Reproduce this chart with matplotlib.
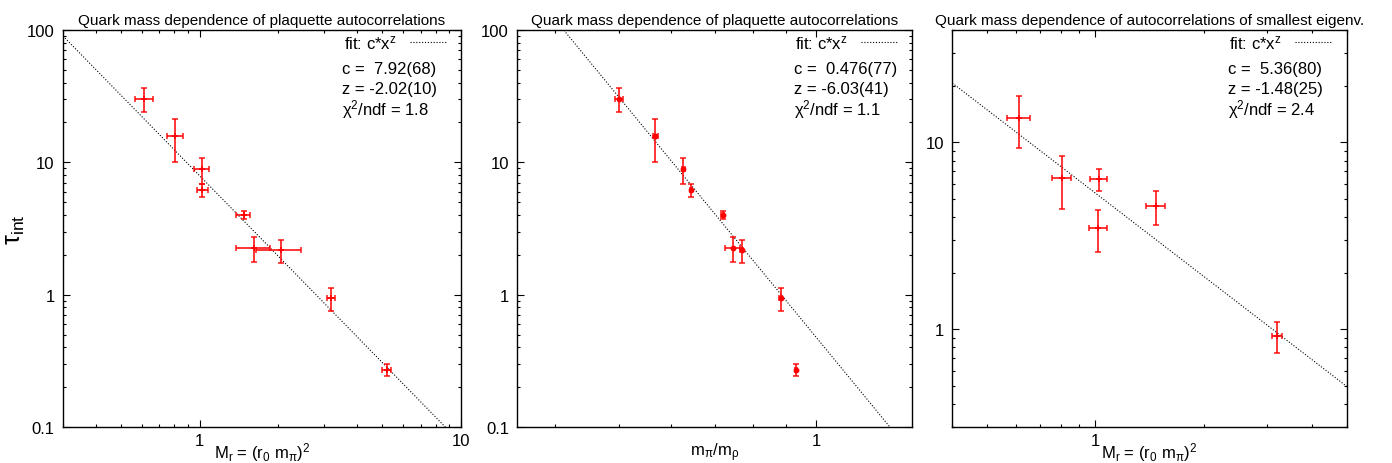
import numpy as np
import matplotlib
matplotlib.use("Agg")
import matplotlib.pyplot as plt
from matplotlib.ticker import FixedLocator, LogLocator, NullFormatter, FixedFormatter

plt.rcParams['font.family'] = ['Liberation Sans', 'DejaVu Sans']
plt.rcParams['mathtext.fontset'] = 'custom'
plt.rcParams['mathtext.rm'] = 'Liberation Sans'
plt.rcParams['mathtext.it'] = 'Liberation Sans:italic'
plt.rcParams['mathtext.default'] = 'regular'

# plaquette autocorrelations vs M_r = (r0 m_pi)^2
mr_plaq = [0.615, 0.808, 1.018, 1.024, 1.472, 1.618, 2.05, 3.18, 5.19]
mr_plaq_err = [0.047, 0.055, 0.066, 0.05, 0.09, 0.24, 0.40, 0.11, 0.19]
tau_plaq = [30.1, 15.7, 8.85, 6.21, 4.0, 2.24, 2.17, 0.937, 0.271]
tau_plaq_err = [6.1, 5.7, 1.95, 0.7, 0.3, 0.47, 0.42, 0.19, 0.026]

# plaquette autocorrelations vs m_pi/m_rho
ratio = [0.501, 0.568, 0.627, 0.644, 0.72, 0.746, 0.770, 0.883, 0.932]
ratio_err = [0.007, 0.005, 0.003, 0.003, 0.003, 0.02, 0.004, 0.004, 0.003]

# smallest eigenvalue autocorrelations vs M_r
mr_eig = [0.614, 0.806, 1.023, 1.017, 1.472, 3.2]
mr_eig_err = [0.045, 0.05, 0.054, 0.06, 0.09, 0.1]
tau_eig = [13.6, 6.42, 6.34, 3.47, 4.56, 0.918]
tau_eig_err = [4.2, 2.03, 0.84, 0.88, 0.93, 0.17]

# fit results c*x^z
fit_c = [7.92, 0.476, 5.36]
fit_z = [-2.02, -6.03, -1.48]
fit_text = [["c =  7.92(68)", "z = -2.02(10)", "χ$^2$/ndf = 1.8"],
            ["c =  0.476(77)", "z = -6.03(41)", "χ$^2$/ndf = 1.1"],
            ["c =  5.36(80)", "z = -1.48(25)", "χ$^2$/ndf = 2.4"]]

titles = ["Quark mass dependence of plaquette autocorrelations",
          "Quark mass dependence of plaquette autocorrelations",
          "Quark mass dependence of autocorrelations of smallest eigenv."]
xlabels = ["M$_r$ = (r$_0$ m$_\\pi$)$^2$", "m$_\\pi$/m$_\\rho$", "M$_r$ = (r$_0$ m$_\\pi$)$^2$"]
xlims = [(0.3, 10), (0.35, 1.4), (0.4, 5)]
ylims = [(0.1, 100), (0.1, 100), (0.3, 40)]
xticks = [[1, 10], [1], [1]]
yticks = [[0.1, 1, 10, 100], [0.1, 1, 10, 100], [1, 10]]

datasets = [(mr_plaq, mr_plaq_err, tau_plaq, tau_plaq_err),
            (ratio, ratio_err, tau_plaq, tau_plaq_err),
            (mr_eig, mr_eig_err, tau_eig, tau_eig_err)]

fig = plt.figure(figsize=(13.92, 4.64), dpi=100)
lefts = [63, 517.3, 952.3]
widths = [398, 394.7, 394.4]

for i in range(3):
    ax = fig.add_axes([lefts[i] / 1392, 1 - 428 / 464, widths[i] / 1392, 397 / 464])
    ax.set_xscale('log')
    ax.set_yscale('log')
    ax.set_xlim(*xlims[i])
    ax.set_ylim(*ylims[i])

    x, xe, y, ye = datasets[i]
    ax.errorbar(x, y, xerr=xe, yerr=ye, fmt='+' if i != 1 else 'o', ms=3 if i == 1 else 4,
                color='red', ecolor=(1, 0, 0, 0.85), elinewidth=1.3, capsize=2.5,
                capthick=1.2, mew=1.2, zorder=3)

    xf = np.logspace(np.log10(xlims[i][0]), np.log10(xlims[i][1]), 200)
    ax.plot(xf, fit_c[i] * xf ** fit_z[i], color='black', lw=0.8,
            linestyle=(0, (1, 1.6)), label='fit: c*x$^z$', zorder=2)
    ax.legend(loc='upper right', bbox_to_anchor=(0.963, 0.992), frameon=False,
              markerfirst=False, fontsize=12, handlelength=2.2, handletextpad=0.8,
              borderaxespad=0, borderpad=0)

    for k, s in enumerate(fit_text[i]):
        ax.text(0.70, 0.902 - 0.0505 * k, s, transform=ax.transAxes, fontsize=12,
                ha='left', va='center')

    ax.set_title(titles[i], fontsize=11, pad=4)
    ax.set_xlabel(xlabels[i], fontsize=12)
    ax.xaxis.set_label_coords(0.5, -0.033)

    ax.xaxis.set_major_locator(FixedLocator(xticks[i]))
    ax.xaxis.set_major_formatter(FixedFormatter([str(t) for t in xticks[i]]))
    ax.xaxis.set_minor_locator(LogLocator(base=10, subs=np.arange(2, 10)))
    ax.xaxis.set_minor_formatter(NullFormatter())
    ax.yaxis.set_major_locator(FixedLocator(yticks[i]))
    ax.yaxis.set_major_formatter(FixedFormatter([('%g' % t) for t in yticks[i]]))
    ax.yaxis.set_minor_locator(LogLocator(base=10, subs=np.arange(2, 10)))
    ax.yaxis.set_minor_formatter(NullFormatter())

    ax.tick_params(which='both', direction='in', top=True, right=True, labelsize=12,
                   width=0.8, color='black')
    ax.tick_params(which='major', length=5)
    ax.tick_params(which='minor', length=2.5)
    ax.tick_params(axis='x', pad=4)
    ax.tick_params(axis='y', pad=6)
    for sp in ax.spines.values():
        sp.set_linewidth(1.0)

    if i == 0:
        ax.set_ylabel("τ$_{int}$", fontsize=18)
        ax.yaxis.set_label_coords(-0.09, 0.5)

fig.savefig("out.png", dpi=100)
